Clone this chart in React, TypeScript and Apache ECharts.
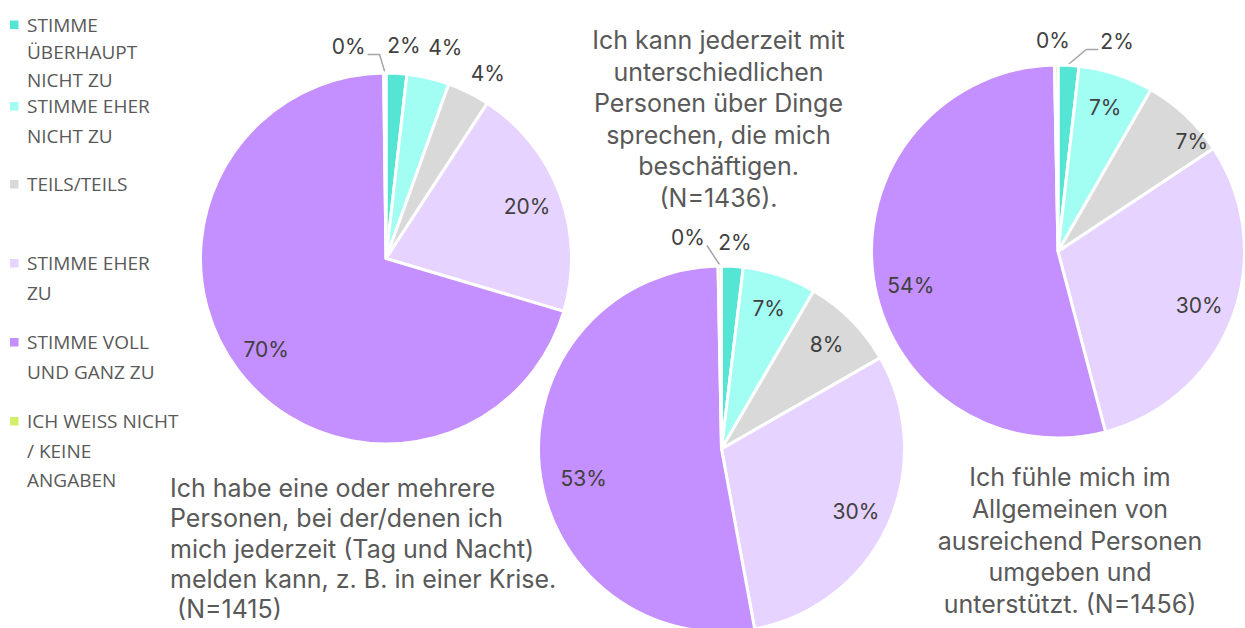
import React, { useEffect, useRef } from 'react';
import * as echarts from 'echarts';

// ---- data ----
const categories = [
  'STIMME ÜBERHAUPT NICHT ZU',
  'STIMME EHER NICHT ZU',
  'TEILS/TEILS',
  'STIMME EHER ZU',
  'STIMME VOLL UND GANZ ZU',
  'ICH WEISS NICHT / KEINE ANGABEN',
];
const legendLines = [
  ['STIMME', 'ÜBERHAUPT', 'NICHT ZU'],
  ['STIMME EHER', 'NICHT ZU'],
  ['TEILS/TEILS'],
  ['STIMME EHER', 'ZU'],
  ['STIMME VOLL', 'UND GANZ ZU'],
  ['ICH WEISS NICHT', '/ KEINE', 'ANGABEN'],
];
const valuesKrise = [1.8, 3.7, 3.7, 20.4, 70.2, 0.2];
const valuesSprechen = [1.9, 6.5, 8.3, 30.4, 52.6, 0.3];
const valuesUmgeben = [1.8, 6.5, 7.4, 30.2, 53.8, 0.3];

const titleKrise =
  'Ich habe eine oder mehrere\nPersonen, bei der/denen ich\nmich jederzeit (Tag und Nacht)\nmelden kann, z. B. in einer Krise.\n (N=1415)';
const titleSprechen =
  'Ich kann jederzeit mit\nunterschiedlichen\nPersonen über Dinge\nsprechen, die mich\nbeschäftigen.\n(N=1436).';
const titleUmgeben =
  'Ich fühle mich im\nAllgemeinen von\nausreichend Personen\numgeben und\nunterstützt. (N=1456)';

// ---- styles / layout ----
const colors = ['#55e5d4', '#a2fdf3', '#d9d9d9', '#e6d3ff', '#c48fff', '#d3ee6a'];
const TEXT = '#595959';
const LABEL = '#404040';
const TITLE_FONT = 'Inter, "Noto Sans", sans-serif';
const LEGEND_FONT = '"Open Sans", "Noto Sans", sans-serif';

type Override = Record<number, [number, number]>;
interface PieCfg {
  name: string;
  values: number[];
  center: [number, number];
  r: number;
  overrides: Override;
  lineIdx: number;
  elbow: boolean;
}

const pies: PieCfg[] = [
  {
    name: 'Krise',
    values: valuesKrise,
    center: [386, 258.5],
    r: 185.5,
    overrides: { 0: [4.8, 1.15], 1: [15.7, 1.18], 2: [28.8, 1.14], 5: [-10, 1.16] },
    lineIdx: 5,
    elbow: true,
  },
  {
    name: 'Sprechen',
    values: valuesSprechen,
    center: [721.5, 449],
    r: 183,
    overrides: { 0: [3.7, 1.13], 4: [258, 0.77], 5: [-9, 1.17] },
    lineIdx: 5,
    elbow: false,
  },
  {
    name: 'Umgeben',
    values: valuesUmgeben,
    center: [1058, 251.5],
    r: 186.5,
    overrides: { 0: [15.7, 1.17], 2: [50.5, 0.93], 4: [257, 0.81], 5: [-1.4, 1.13] },
    lineIdx: 0,
    elbow: true,
  },
];

function midAngles(values: number[]): number[] {
  const total = values.reduce((a, b) => a + b, 0);
  let acc = 0;
  return values.map((v) => {
    const m = ((acc + v / 2) / total) * 360;
    acc += v;
    return m;
  });
}

function buildSeries(cfg: PieCfg) {
  const mids = midAngles(cfg.values);
  const total = cfg.values.reduce((a, b) => a + b, 0);
  const [cx, cy] = cfg.center;
  const polar = (deg: number, rr: number) => {
    const a = (deg * Math.PI) / 180;
    return [cx + rr * Math.sin(a), cy - rr * Math.cos(a)];
  };
  return {
    type: 'pie',
    name: cfg.name,
    center: cfg.center,
    radius: [0, cfg.r],
    startAngle: 90,
    clockwise: true,
    avoidLabelOverlap: false,
    silent: true,
    itemStyle: { borderColor: '#ffffff', borderWidth: 3 },
    label: {
      show: true,
      position: 'outside',
      formatter: (p: any) => Math.round(p.value) + '%',
      color: LABEL,
      fontSize: 21,
      fontFamily: TITLE_FONT,
    },
    labelLine: { show: false },
    labelLayout: (params: any) => {
      const i = params.dataIndex;
      const ov = cfg.overrides[i];
      const share = cfg.values[i] / total;
      const deg = ov ? ov[0] : mids[i];
      const f = ov ? ov[1] : share >= 0.05 ? 0.81 : 1.15;
      const [x, y] = polar(deg, f * cfg.r);
      const res: any = { x, y, align: 'center', verticalAlign: 'middle' };
      if (i === cfg.lineIdx) {
        const w = params.labelRect ? params.labelRect.width : 36;
        const [ex, ey] = polar(mids[i], cfg.r + 1);
        const dir = ex > x ? 1 : -1;
        const sx = x + dir * (w / 2 + 2);
        const sy = y + 8;
        res.labelLinePoints = cfg.elbow
          ? [[sx, sy], [sx + dir * 12, sy], [ex, ey]]
          : [[sx, sy], [sx, sy], [ex, ey]];
      }
      return res;
    },
    data: cfg.values.map((v, i) => ({
      name: categories[i],
      value: v,
      itemStyle: { color: colors[i] },
      labelLine:
        i === cfg.lineIdx
          ? { show: true, lineStyle: { color: '#a6a6a6', width: 1.5 } }
          : { show: false },
    })),
  };
}

function legendGraphics() {
  const els: any[] = [];
  const firstCenters = [24.5, 106, 184, 263, 342, 421];
  const lhs = [27.5, 29.5, 29.5, 29.5, 29.5, 29.5];
  legendLines.forEach((lines, i) => {
    const cyLine = firstCenters[i];
    els.push({
      type: 'rect',
      shape: { x: 10, y: cyLine - 4, width: 8.5, height: 8.5 },
      style: { fill: colors[i] },
    });
    lines.forEach((ln, k) => {
      els.push({
        type: 'text',
        x: 27,
        y: cyLine + k * lhs[i],
        style: {
          text: ln,
          fill: TEXT,
          font: `19px ${LEGEND_FONT}`,
          lineHeight: 18,
          textAlign: 'left',
          textVerticalAlign: 'middle',
        },
      });
    });
  });
  return els;
}

function titleGraphics() {
  const mk = (text: string, x: number, firstCenter: number, lh: number, align: string) => ({
    type: 'text',
    x,
    y: firstCenter - lh / 2,
    style: {
      text,
      fill: TEXT,
      font: `25px ${TITLE_FONT}`,
      lineHeight: lh,
      textAlign: align,
      textVerticalAlign: 'top',
    },
  });
  return [
    mk(titleKrise, 170, 488, 30.3, 'left'),
    mk(titleSprechen, 718.5, 40, 31.6, 'center'),
    mk(titleUmgeben, 1070, 477, 31.75, 'center'),
  ];
}

export default function App() {
  const ref = useRef<HTMLDivElement>(null);
  useEffect(() => {
    if (!ref.current) return;
    const chart = echarts.init(ref.current, undefined, { renderer: 'svg' });
    chart.setOption({
      animation: false,
      backgroundColor: '#ffffff',
      series: pies.map((p) => buildSeries(p)),
      graphic: [...legendGraphics(), ...titleGraphics()],
    });
    return () => chart.dispose();
  }, []);
  return (
    <div
      ref={ref}
      style={{ position: 'absolute', left: 0, top: 0, width: 1245, height: 628 }}
    />
  );
}
